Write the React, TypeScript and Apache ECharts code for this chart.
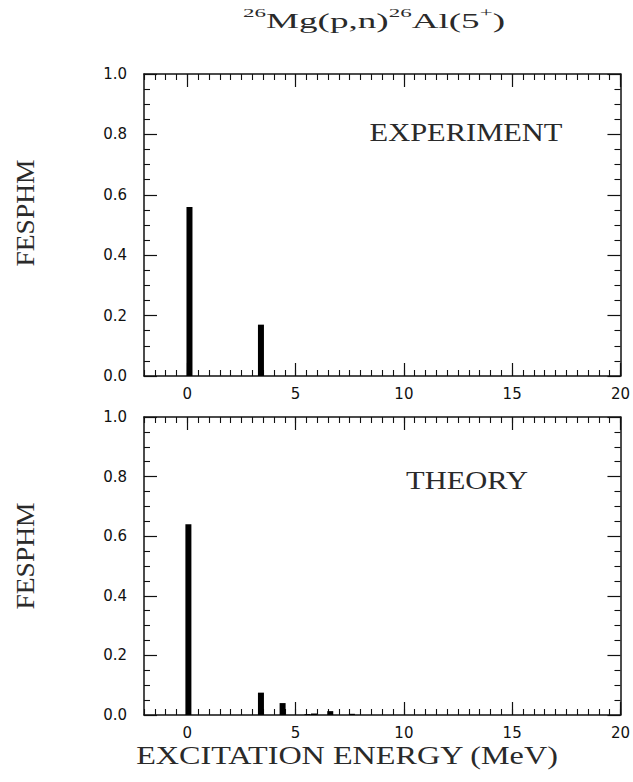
import React, { useEffect, useRef } from "react";
import * as echarts from "echarts";

// ---- data ----
const expEnergy = [0.1, 3.4];
const expStrength = [0.56, 0.17];
const thEnergy = [0.05, 3.4, 4.4, 5.55, 5.85, 6.6, 7.6];
const thStrength = [0.64, 0.075, 0.04, 0.003, 0.005, 0.013, 0.004];
const xMajorTicks = [0, 5, 10, 15, 20];
const xMin = -2;
const xMax = 20;
const xMinorStep = 0.5;
const yMin = 0;
const yMax = 1;
const yStep = 0.2;
const panelLabels = ["EXPERIMENT", "THEORY"];
const yTitle = "FESPHM";
const xTitle = "EXCITATION ENERGY (MeV)";

const SERIF = '"Liberation Serif", "DejaVu Serif", serif';
const SANS = '"DejaVu Sans", "Liberation Sans", sans-serif';

function measure(text: string, font: string): number {
  const c = document.createElement("canvas").getContext("2d");
  if (!c) return text.length * 10;
  c.font = font;
  return c.measureText(text).width;
}

export default function App() {
  const ref = useRef<HTMLDivElement>(null);
  useEffect(() => {
    if (!ref.current) return;
    const chart = echarts.init(ref.current, null, { renderer: "svg" });

    const minorTicks: number[] = [];
    for (let v = xMin; v <= xMax + 1e-9; v += xMinorStep) minorTicks.push(+v.toFixed(2));

    const grids = [
      { left: 144, top: 74, width: 480, height: 302 },
      { left: 144, top: 417, width: 480, height: 298 },
    ];
    const line = { show: true, onZero: false, lineStyle: { color: "#111", width: 1.5 } };
    const xAxes: any[] = [];
    const yAxes: any[] = [];
    grids.forEach((_, g) => {
      const base = { gridIndex: g, type: "value", min: xMin, max: xMax, splitLine: { show: false } };
      xAxes.push({
        ...base, position: "bottom", axisLine: line,
        axisTick: { show: true, inside: true, length: 13, customValues: xMajorTicks, lineStyle: { color: "#111", width: 1.2 } },
        axisLabel: { show: true, customValues: xMajorTicks, margin: 10, fontSize: 15, fontFamily: SANS, color: "#111" },
      });
      xAxes.push({
        ...base, position: "bottom", axisLine: { show: false, onZero: false },
        axisTick: { show: true, inside: true, length: 6, customValues: minorTicks, lineStyle: { color: "#111", width: 1.1 } },
        axisLabel: { show: false },
      });
      xAxes.push({
        ...base, position: "top", axisLine: line,
        axisTick: { show: true, inside: true, length: 13, customValues: xMajorTicks, lineStyle: { color: "#111", width: 1.2 } },
        axisLabel: { show: false },
      });
      xAxes.push({
        ...base, position: "top", axisLine: { show: false, onZero: false },
        axisTick: { show: true, inside: true, length: 6, customValues: minorTicks, lineStyle: { color: "#111", width: 1.1 } },
        axisLabel: { show: false },
      });
      const ybase = {
        gridIndex: g, type: "value", min: yMin, max: yMax, interval: yStep, splitLine: { show: false },
        axisLine: line,
        axisTick: { show: true, inside: true, length: 13, lineStyle: { color: "#111", width: 1.2 } },
        minorTick: { show: true, splitNumber: 4, length: 6, lineStyle: { color: "#111", width: 1.1 } },
      };
      yAxes.push({
        ...ybase, position: "left",
        axisLabel: { show: true, margin: 17, fontSize: 15, fontFamily: SANS, color: "#111", formatter: (v: number) => v.toFixed(1) },
      });
      yAxes.push({ ...ybase, position: "right", axisLabel: { show: false } });
    });

    // texts, stretched horizontally to match the plotter lettering widths
    const labFont = 25;
    const labScale = 193 / measure(panelLabels[0], `${labFont}px ${SERIF}`);
    const yTitleScale = 107 / measure(yTitle, `${labFont}px ${SERIF}`);
    const xTitleFont = 25;
    const xTitleScale = 423 / measure(xTitle, `${xTitleFont}px ${SERIF}`);
    const tN = 21, tS = 13;
    const titleW =
      measure("Mg(p,n)", `${tN}px ${SERIF}`) + measure("Al(5", `${tN}px ${SERIF}`) + measure(")", `${tN}px ${SERIF}`) +
      2 * measure("26", `${tS}px ${SERIF}`) + measure("+", `${tS}px ${SERIF}`);
    const titleScale = 262 / titleW;

    const txt = (text: string, x: number, y: number, size: number, sx: number, rotation = 0) => ({
      type: "text", x, y, scaleX: sx, rotation,
      style: { text, fontSize: size, fontFamily: SERIF, fill: "#2a2a2a", align: "center", verticalAlign: "middle" },
    });

    chart.setOption({
      animation: false,
      backgroundColor: "#fff",
      grid: grids,
      xAxis: xAxes,
      yAxis: yAxes,
      series: [
        {
          type: "bar", xAxisIndex: 0, yAxisIndex: 0, barWidth: 6,
          itemStyle: { color: "#000" },
          data: expEnergy.map((e, i) => [e, expStrength[i]]),
        },
        {
          type: "bar", xAxisIndex: 4, yAxisIndex: 2, barWidth: 6,
          itemStyle: { color: "#000" },
          data: thEnergy.map((e, i) => [e, thStrength[i]]),
        },
      ],
      graphic: [
        {
          type: "text", x: 374, y: 19, scaleX: titleScale,
          style: {
            text: "{s|26}{n|Mg(p,n)}{s|26}{n|Al(5}{s|+}{n|)}",
            align: "center", verticalAlign: "middle",
            rich: {
              n: { fontSize: tN, fontFamily: SERIF, fill: "#2a2a2a", lineHeight: 26, verticalAlign: "bottom" },
              s: { fontSize: tS, fontFamily: SERIF, fill: "#2a2a2a", lineHeight: 14, verticalAlign: "top" },
            },
          },
        },
        txt(panelLabels[0], 466, 132, labFont, labScale),
        txt(panelLabels[1], 467, 480, labFont, labScale),
        txt(yTitle, 26, 213, labFont, yTitleScale, Math.PI / 2),
        txt(yTitle, 26, 556, labFont, yTitleScale, Math.PI / 2),
        txt(xTitle, 347, 755, xTitleFont, xTitleScale),
      ],
    });
    return () => chart.dispose();
  }, []);
  return <div ref={ref} style={{ position: "fixed", left: 0, top: 0, width: 633, height: 782 }} />;
}
